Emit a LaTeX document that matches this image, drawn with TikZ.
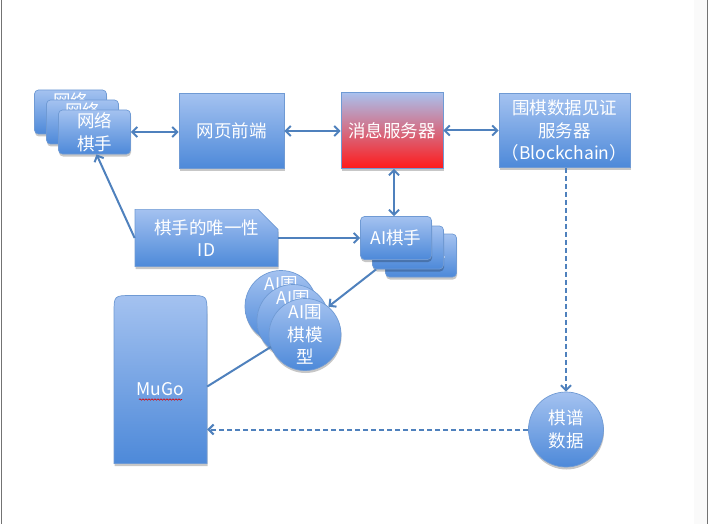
\documentclass[tikz,border=0pt]{standalone}
\usepackage{fontspec}
\setmainfont{Noto Sans CJK SC}
\usetikzlibrary{arrows.meta,shapes.misc,shadows,decorations.pathmorphing}
\definecolor{edge}{HTML}{4F81BD}
\definecolor{boxtop}{HTML}{A4C2F0}
\definecolor{boxbot}{HTML}{4D89D9}
\definecolor{boxline}{HTML}{6F9AD4}
\definecolor{msgtop}{HTML}{A9C1EE}
\definecolor{msgbot}{HTML}{FF1A1A}
\begin{document}
\begin{tikzpicture}[x=1pt,y=-1pt,
  shade/.style={top color=boxtop, bottom color=boxbot, draw=boxline, line width=0.7pt,
    drop shadow={shadow xshift=0.5pt, shadow yshift=-2.5pt, opacity=0.22, fill=black}},
  txt/.style={text=white, align=center, inner sep=0pt, font=\fontsize{17.5}{22.5}\selectfont},
  box/.style={shade, txt, rectangle, rounded corners=4pt},
  sqbox/.style={shade, txt, rectangle},
  ball/.style={shade, txt, circle, minimum size=74pt},
  link/.style={draw=edge, line width=2pt, -{Straight Barb[length=5pt,width=10pt]}},
  dlink/.style={link, {Straight Barb[length=5pt,width=10pt]}-{Straight Barb[length=5pt,width=10pt]}},
  plain/.style={draw=edge, line width=2pt},
  dlinkd/.style={link, dashed, dash pattern=on 5pt off 3pt}
]
% page frame
\fill[white] (0,0) rectangle (709,523);
\fill[black!2] (694,0) rectangle (707,523);
\draw[black!55, line width=1pt] (1,0) -- (1,523);
\draw[black!55, line width=1pt] (707.5,0) -- (707.5,523);

% network players (stack)
\node[box, minimum width=72pt, minimum height=44pt] (np3) at (70.5,111.5) {网络\\棋手};
\node[box, minimum width=72pt, minimum height=44pt] (np2) at (82.5,121.5) {网络\\棋手};
\node[box, minimum width=72pt, minimum height=44pt] (np) at (94.5,131.5) {网络\\棋手};

% top row
\node[sqbox, minimum width=105pt, minimum height=75pt] (web) at (231.5,130.5) {网页前端};
\node[sqbox, top color=msgtop, bottom color=msgbot, minimum width=102pt, minimum height=76pt] (msg) at (392,130) {消息服务器};
\node[sqbox, minimum width=131pt, minimum height=74pt] (chain) at (564.5,130) {围棋数据见证\\服务器\\（Blockchain）};

% player identity
\node[shade, txt, chamfered rectangle, chamfered rectangle corners=north east,
      chamfered rectangle xsep=10pt, chamfered rectangle ysep=10pt,
      minimum width=143pt, minimum height=57pt] (pid) at (206.5,237.5) {棋手的唯一性\\ID};

% AI players (stack)
\node[box, minimum width=71pt, minimum height=43pt] (ai3) at (421,255) {AI棋手};
\node[box, minimum width=71pt, minimum height=43pt] (ai2) at (408,247) {AI棋手};
\node[box, minimum width=71pt, minimum height=43pt] (ai) at (396,237.5) {AI棋手};

% AI Go models (stack)
\node[ball, minimum size=72pt] (am3) at (281,306) {AI围\\棋模\\型};
\node[ball, minimum size=72pt] (am2) at (293,320) {AI围\\棋模\\型};
\node[ball, minimum size=72pt] (am) at (305,334) {AI围\\棋模\\型};

% MuGo engine
\path[shade] (114,463) -- (114,313) .. controls (114,295) .. (132,295) -- (189,295)
  .. controls (207,295) .. (207,313) -- (207,463) -- cycle;
\node[minimum width=93pt, minimum height=168pt, inner sep=0pt] (mugo) at (160.5,379) {};
\node[txt] (mugotxt) at (160,389) {MuGo};
\draw[red!85!black, line width=0.6pt, decorate,
      decoration={snake, amplitude=0.7pt, segment length=3pt}]
  ([xshift=-21pt,yshift=-10pt]mugotxt.center) -- ([xshift=22pt,yshift=-10pt]mugotxt.center);

% game records
\node[ball, minimum size=75pt] (rec) at (566,429) {棋谱\\数据};

% connectors
\draw[dlink] (np.east) -- (np.east -| web.west);
\draw[dlink] (web.east) -- (web.east -| msg.west);
\draw[dlink] (msg.east) -- (msg.east -| chain.west);
\draw[dlink] ([xshift=2pt]msg.south) -- ([xshift=2pt]msg.south |- ai.north);
\draw[link] (pid.west) -- ([xshift=2pt]np.south);
\draw[link] (pid.east) -- (pid.east -| ai.west);
\draw[link] ([xshift=4pt]ai2.south west) -- (am.50);
\draw[plain] (am.200) -- ([yshift=-7pt]mugo.east);
\draw[dlinkd] (rec.north |- chain.south) -- (rec.north);
\draw[dlinkd] (rec.west) -- (rec.west -| mugo.east);
\end{tikzpicture}
\end{document}
